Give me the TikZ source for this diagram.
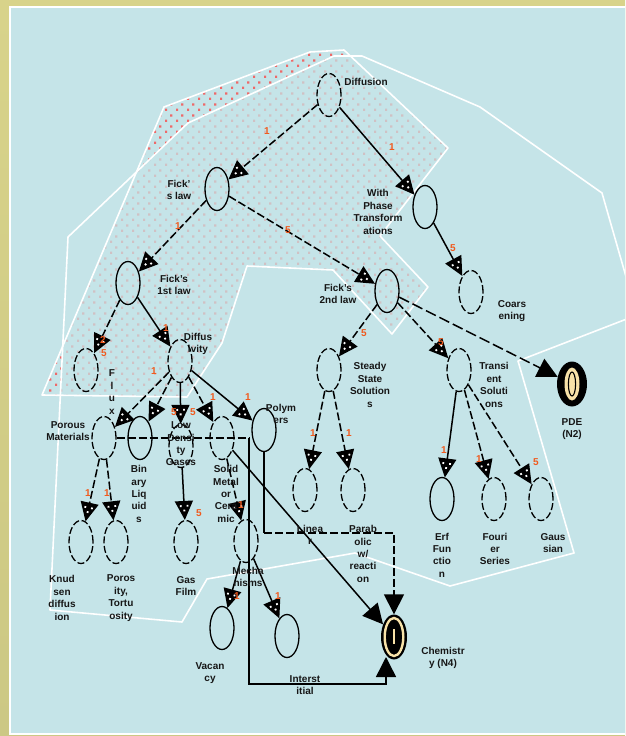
\documentclass[tikz,border=0pt]{standalone}
\usepackage{fontspec}
\setmainfont{Liberation Sans}
\usetikzlibrary{shapes.geometric,arrows.meta,decorations.markings,patterns}

\definecolor{panel}{RGB}{197,228,232}
\definecolor{frameTop}{RGB}{216,211,138}
\definecolor{frameMid}{RGB}{243,239,165}
\definecolor{frameBot}{RGB}{204,200,132}
\definecolor{dotred}{RGB}{238,105,105}
\definecolor{numorange}{RGB}{240,90,30}
\definecolor{cream}{RGB}{248,226,168}
\definecolor{ink}{RGB}{22,22,22}

% staggered square dots for the shaded region
\pgfdeclarepatternformonly{reddots}{\pgfqpoint{0pt}{0pt}}{\pgfqpoint{11pt}{11.34pt}}{\pgfqpoint{11pt}{11.34pt}}{%
  \pgfpathrectangle{\pgfqpoint{0pt}{0pt}}{\pgfqpoint{2.4pt}{2.4pt}}%
  \pgfpathrectangle{\pgfqpoint{5.5pt}{5.67pt}}{\pgfqpoint{2.4pt}{2.4pt}}%
  \pgfusepath{fill}}

% small white squares set on a black arrow head
\newcommand\headspecks{%
  \fill[white] (-10.4,-0.9) rectangle (-8.6,0.9);
  \fill[white] (-14.9,2.5) rectangle (-13.1,4.3);
  \fill[white] (-14.9,-4.3) rectangle (-13.1,-2.5);}

\begin{document}
\begin{tikzpicture}[x=1pt,y=-1pt,
  ell/.style={ellipse, draw=black, line width=1.3pt, minimum width=24pt, minimum height=43pt, inner sep=0pt},
  elldash/.style={ell, dash pattern=on 7pt off 2.6pt},
  lbl/.style={font=\bfseries\fontsize{10}{12.4}\selectfont, align=center, inner sep=0pt, text=ink},
  num/.style={font=\bfseries\fontsize{10}{10}\selectfont, text=numorange, inner sep=0pt},
  conn/.style={line width=1.5pt},
  dlink/.style={conn, dash pattern=on 8pt off 3pt},
  dothead/.style={-{Triangle[length=19pt,width=18pt]},
    postaction={decorate, decoration={markings, mark=at position 1 with {\headspecks}}}},
  bigtip/.style={-{Triangle[length=20pt,width=20pt]}},
  hull/.style={white, line width=1.6pt, line join=round},
]
\useasboundingbox (0,0) rectangle (625,736);
\clip (0,0) rectangle (625,736);

% frame and panel
\shade[top color=frameTop, middle color=frameMid, bottom color=frameBot] (0,0) rectangle (625,736);
\fill[panel] (10,7) rectangle (640,734);
\draw[white, line width=2pt] (10,7) rectangle (640,734);

% dotted region, then the large region laid over it
\path[pattern=reddots, pattern color=dotred]
  (164,107) -- (310,52) -- (344,50) -- (448,148) -- (380,236) -- (428,287) -- (392,334)
  -- (333,270) -- (247,266) -- (222,343) -- (187,397) -- (42,395) -- cycle;
\fill[panel, opacity=0.72]
  (68,237) -- (188,123) -- (334,56) -- (362,56) -- (480,107) -- (602,193) -- (637,315)
  -- (518,361) -- (574,553) -- (450,586) -- (355,553) -- (207,579) -- (182,622) -- (50,610) -- cycle;
\draw[hull]
  (164,107) -- (310,52) -- (344,50) -- (448,148) -- (380,236) -- (428,287) -- (392,334)
  -- (333,270) -- (247,266) -- (222,343) -- (187,397) -- (42,395) -- cycle;
\draw[hull]
  (68,237) -- (188,123) -- (334,56) -- (362,56) -- (480,107) -- (602,193) -- (637,315)
  -- (518,361) -- (574,553) -- (450,586) -- (355,553) -- (207,579) -- (182,622) -- (50,610) -- cycle;

% concept nodes
\node[elldash] (dif) at (329,95) {};
\node[ell] (fl) at (217,189) {};
\node[ell] (wpt) at (425,207) {};
\node[ell] (f1) at (128,283) {};
\node[elldash] (coa) at (471,292) {};
\node[ell] (f2) at (387,291) {};
\node[elldash] (flux) at (86,370) {};
\node[elldash] (dvty) at (180,361) {};
\node[elldash] (ss) at (329,370) {};
\node[elldash] (tr) at (459,370) {};
\node[elldash] (pm) at (104,438) {};
\node[ell] (bl) at (140,438) {};
\node[elldash] (ldg) at (181,446) {};
\node[elldash] (smc) at (222,438) {};
\node[ell] (pol) at (264,430) {};
\node[elldash] (lin) at (305,490) {};
\node[elldash] (par) at (353,490) {};
\node[ell] (erf) at (442,499) {};
\node[elldash] (fou) at (494,499) {};
\node[elldash] (gau) at (541,499) {};
\node[elldash] (knu) at (81,542) {};
\node[elldash] (por) at (116,542) {};
\node[elldash] (gf) at (186,542) {};
\node[elldash] (mec) at (246,541) {};
\node[ell] (vac) at (222,628) {};
\node[ell] (int) at (287,636) {};

% linked nodes (N2, N4)
\node[ellipse, fill=black, minimum width=30pt, minimum height=45pt, inner sep=0pt] (pde) at (572,384) {};
\fill[cream] (pde.center) ellipse [x radius=7.5, y radius=16.5];
\draw[black, line width=1.1pt] (pde.center) ellipse [x radius=3.6, y radius=12];
\node[ellipse, fill=black, minimum width=26pt, minimum height=45pt, inner sep=0pt] (chem) at (394,637) {};
\draw[cream, line width=2.4pt] (chem.center) ellipse [x radius=9.3, y radius=19];
\draw[cream, line width=1.4pt] ([yshift=8pt]chem.center) -- ([yshift=-7pt]chem.center);

% route corners
\coordinate (pc1) at (264,533);
\coordinate (pc2) at (394,533);
\coordinate (m1) at (249,438);
\coordinate (m2) at (249,684);
\coordinate (m3) at (386,684);
\coordinate (m4) at (386,657);

% connectors
\draw[dlink,dothead] (dif) -- (fl);
\draw[conn,dothead] (dif) -- (wpt);
\draw[dlink,dothead] (fl) -- (f1);
\draw[dlink,dothead] (fl) -- (f2);
\draw[conn,dothead] (wpt) -- (coa);
\draw[dlink,dothead] (f1) -- (flux);
\draw[conn,dothead] (f1) -- (dvty);
\draw[dlink,dothead] (f2) -- (ss);
\draw[dlink,dothead] (f2) -- (tr);
\draw[conn, dash pattern=on 11pt off 4pt, bigtip] (f2) -- (pde);
\draw[dlink,dothead] (dvty) -- (pm);
\draw[dlink,dothead] (dvty) -- (bl);
\draw[conn,dothead] (dvty) -- (ldg);
\draw[dlink,dothead] (dvty) -- (smc);
\draw[conn,dothead] (dvty) -- (pol);
\draw[dlink,dothead] (ss) -- (lin);
\draw[dlink,dothead] (ss) -- (par);
\draw[conn,dothead] (tr) -- (erf);
\draw[dlink,dothead] (tr) -- (fou);
\draw[dlink,dothead] (tr) -- (gau);
\draw[dlink,dothead] (pm) -- (knu);
\draw[dlink,dothead] (pm) -- (por);
\draw[conn,dothead] (ldg) -- (gf);
\draw[dlink,dothead] (smc) -- (mec);
\draw[conn,dothead] (mec) -- (vac);
\draw[conn,dothead] (mec) -- (int);
\draw[conn,bigtip] (smc) -- (chem);
\draw[conn, line width=1.3pt] (pol) -- (pc1);
\draw[dlink,bigtip] (pc1) -- (pc2) -- (chem);
\draw[dlink] (pm) -- (m1);
\draw[conn,bigtip] (m1) -- (m2) -- (m3) -- (m4);

% concept labels
\node[lbl] (tdif) at (366,82) {Diffusion};
\node[lbl] (tfl) at (179,190) {Fick'\\s law};
\node[lbl] (twpt) at (378,212) {With\\Phase\\Transform\\ations};
\node[lbl] (tf1) at (174,285) {Fick's\\1st law};
\node[lbl] (tcoa) at (512,311) {Coars\\ening};
\node[lbl] (tf2) at (338,294) {Fick's\\2nd law};
\node[lbl] (tflux) at (112,392) {F\\l\\u\\x};
\node[lbl] (tdvty) at (198,344) {Diffus\\ivity};
\node[lbl] (tss) at (370,385) {Steady\\State\\Solution\\s};
\node[lbl] (ttr) at (494,385) {Transi\\ent\\Soluti\\ons};
\node[lbl] (tpde) at (572,429) {PDE\\(N2)};
\node[lbl] (tpm) at (68,431) {Porous\\Materials};
\node[lbl] (tbl) at (139,494) {Bin\\ary\\Liq\\uid\\s};
\node[lbl] (tldg) at (181,444) {Low\\Densi\\ty\\Gases};
\node[lbl] (tsmc) at (226,494) {Solid\\Metal\\or\\Cera\\mic};
\node[lbl] (tpol) at (281,414) {Polym\\ers};
\node[lbl] (tlin) at (310,535) {Linea\\r};
\node[lbl] (tpar) at (363,554) {Parab\\olic\\w/\\reacti\\on};
\node[lbl] (terf) at (442,555) {Erf\\Fun\\ctio\\n};
\node[lbl] (tfou) at (495,549) {Fouri\\er\\Series};
\node[lbl] (tgau) at (553,543) {Gaus\\sian};
\node[lbl] (tknu) at (62,598) {Knud\\sen\\diffus\\ion};
\node[lbl] (tpor) at (121,598) {Poros\\ity,\\Tortu\\osity};
\node[lbl] (tgf) at (186,586) {Gas\\Film};
\node[lbl] (tmec) at (248,577) {Mecha\\nisms};
\node[lbl] (tvac) at (210,673) {Vacan\\cy};
\node[lbl] (tint) at (305,685) {Interst\\itial};
\node[lbl] (tchem) at (443,658) {Chemistr\\y (N4)};

% link weights
\node[num] (n1) at (267,131) {1};
\node[num] (n2) at (392,147) {1};
\node[num] (n3) at (178,226) {1};
\node[num] (n4) at (288,230) {5};
\node[num] (n5) at (453,248) {5};
\node[num] (n6a) at (103,340) {2};
\node[num] (n6b) at (104,353) {5};
\node[num] (n7) at (166,328) {1};
\node[num] (n8) at (364,333) {5};
\node[num] (n9) at (441,342) {5};
\node[num] (n11) at (154,371) {1};
\node[num] (n12) at (174,412) {5};
\node[num] (n13) at (193,412) {5};
\node[num] (n14) at (213,397) {1};
\node[num] (n15) at (248,397) {1};
\node[num] (n16) at (313,433) {1};
\node[num] (n17) at (349,433) {1};
\node[num] (n18) at (444,450) {1};
\node[num] (n19) at (479,459) {1};
\node[num] (n20) at (536,462) {5};
\node[num] (n21) at (88,493) {1};
\node[num] (n22) at (107,493) {1};
\node[num] (n23) at (199,513) {5};
\node[num] (n24) at (241,505) {1};
\node[num] (n25) at (237,596) {1};
\node[num] (n26) at (278,596) {1};
\end{tikzpicture}
\end{document}
